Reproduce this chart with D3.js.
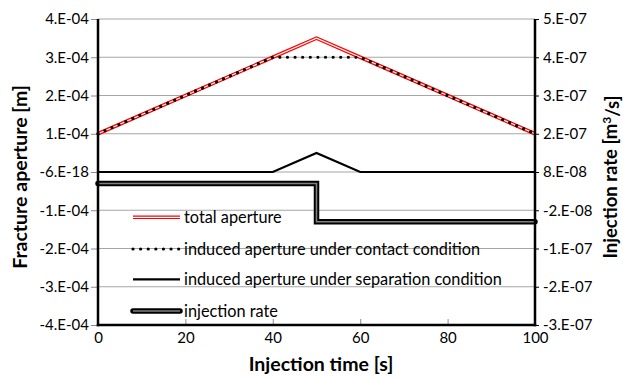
<!DOCTYPE html>
<html>
<head>
<meta charset="utf-8">
<script src="https://cdn.jsdelivr.net/npm/d3@7"></script>
<style>
  html, body { margin: 0; padding: 0; background: #fff; }
  svg { display: block; }
  text { font-family: Lato, "Open Sans", "Liberation Sans", sans-serif; fill: #000; }
</style>
</head>
<body>
<div id="chart"></div>
<script>
// Injection time axis
const xTickValues = [0, 20, 40, 60, 80, 100];

// Left axis: fracture aperture [m]
const leftTickValues = [-4e-4, -3e-4, -2e-4, -1e-4, 0, 1e-4, 2e-4, 3e-4, 4e-4];
const leftTickLabels = ["-4.E-04", "-3.E-04", "-2.E-04", "-1.E-04", "-6.E-18", "1.E-04", "2.E-04", "3.E-04", "4.E-04"];

// Right axis: injection rate [m3/s]
const rightTickValues = [-3.2e-7, -2.2e-7, -1.2e-7, -0.2e-7, 0.8e-7, 1.8e-7, 2.8e-7, 3.8e-7, 4.8e-7];
const rightTickLabels = ["-3.E-07", "-2.E-07", "-1.E-07", "-2.E-08", "8.E-08", "2.E-07", "3.E-07", "4.E-07", "5.E-07"];

// Series
const totalTime = [0, 40, 50, 60, 100];
const totalAperture = [1e-4, 3e-4, 3.5e-4, 3e-4, 1e-4];

const contactTime = [0, 40, 60, 100];
const contactAperture = [1e-4, 3e-4, 3e-4, 1e-4];

const separationTime = [0, 40, 50, 60, 100];
const separationAperture = [0, 0, 0.5e-4, 0, 0];

const injectionTime = [0, 50, 50, 100];
const injectionRate = [5e-8, 5e-8, -5e-8, -5e-8];

const legendLabels = [
  "total aperture",
  "induced aperture under contact condition",
  "induced aperture under separation condition",
  "injection rate"
];

const W = 623, H = 378;
const plot = { left: 98, right: 535, top: 19, bottom: 325 };

const svg = d3.select("#chart").append("svg").attr("width", W).attr("height", H);

const x = d3.scaleLinear().domain([0, 100]).range([plot.left, plot.right]);
const yL = d3.scaleLinear().domain([-4e-4, 4e-4]).range([plot.bottom, plot.top]);
const yR = d3.scaleLinear().domain([-3.2e-7, 4.8e-7]).range([plot.bottom, plot.top]);

const zip = (xs, ys) => xs.map((v, i) => [v, ys[i]]);

// Gridlines
svg.append("g").selectAll("line").data(leftTickValues).join("line")
  .attr("x1", plot.left).attr("x2", plot.right)
  .attr("y1", d => yL(d)).attr("y2", d => yL(d))
  .attr("stroke", "#a6a6a6").attr("stroke-width", 1);

// Left axis
const leftAxis = d3.axisLeft(yL).tickValues(leftTickValues)
  .tickFormat((d, i) => leftTickLabels[i]).tickSize(7).tickPadding(2);
const gL = svg.append("g").attr("transform", `translate(${plot.left},0)`).call(leftAxis);
gL.select(".domain").remove();
gL.selectAll(".tick line").attr("stroke", "#8c8c8c");
gL.selectAll(".tick text").style("font-size", "15px").attr("font-family", null);

// Right axis
const rightAxis = d3.axisRight(yR).tickValues(rightTickValues)
  .tickFormat((d, i) => rightTickLabels[i]).tickSize(4).tickPadding(4);
const gR = svg.append("g").attr("transform", `translate(${plot.right},0)`).call(rightAxis);
gR.select(".domain").remove();
gR.selectAll(".tick line").attr("stroke", "#000");
gR.selectAll(".tick text").style("font-size", "15px").attr("font-family", null);

// Bottom axis (ticks pointing into the plot)
const bottomAxis = d3.axisBottom(x).tickValues(xTickValues).tickSize(0).tickPadding(7);
const gB = svg.append("g").attr("transform", `translate(0,${plot.bottom})`).call(bottomAxis);
gB.select(".domain").remove();
gB.selectAll(".tick text").style("font-size", "15px").attr("font-family", null);
gB.selectAll(".tick").append("line").attr("y1", 0).attr("y2", -6).attr("stroke", "#8c8c8c");

const lineL = d3.line().x(d => x(d[0])).y(d => yL(d[1]));
const lineR = d3.line().x(d => x(d[0])).y(d => yR(d[1]));

// Total aperture: red outlined line
const totalPts = zip(totalTime, totalAperture);
svg.append("path").attr("d", lineL(totalPts)).attr("fill", "none")
  .attr("stroke", "#ff0000").attr("stroke-width", 3.6).attr("stroke-linejoin", "miter");
svg.append("path").attr("d", lineL(totalPts)).attr("fill", "none")
  .attr("stroke", "#fff").attr("stroke-width", 1.2).attr("stroke-linejoin", "miter");

// Contact condition: dotted
svg.append("path").attr("d", lineL(zip(contactTime, contactAperture))).attr("fill", "none")
  .attr("stroke", "#000").attr("stroke-width", 3.2).attr("stroke-linecap", "round")
  .attr("stroke-dasharray", "0.01 7.6");

// Separation condition: solid
svg.append("path").attr("d", lineL(zip(separationTime, separationAperture))).attr("fill", "none")
  .attr("stroke", "#000").attr("stroke-width", 2.2);

// Injection rate: black with grey core
const injPts = zip(injectionTime, injectionRate);
svg.append("path").attr("d", lineR(injPts)).attr("fill", "none")
  .attr("stroke", "#000").attr("stroke-width", 5.5).attr("stroke-linecap", "round");
svg.append("path").attr("d", lineR(injPts)).attr("fill", "none")
  .attr("stroke", "#808080").attr("stroke-width", 1.6).attr("stroke-linecap", "butt");

// Axis lines
svg.append("line").attr("x1", plot.left).attr("x2", plot.left)
  .attr("y1", plot.top).attr("y2", plot.bottom + 1.2).attr("stroke", "#000").attr("stroke-width", 2.5);
svg.append("line").attr("x1", plot.right).attr("x2", plot.right)
  .attr("y1", plot.top).attr("y2", plot.bottom + 1.2).attr("stroke", "#000").attr("stroke-width", 2.5);
svg.append("line").attr("x1", plot.left - 1.2).attr("x2", plot.right + 1.2)
  .attr("y1", plot.bottom).attr("y2", plot.bottom).attr("stroke", "#000").attr("stroke-width", 2.5);

// Legend
const legendY = [217.3, 249, 279.3, 311];
const lx1 = 133, lx2 = 180;
const lg = svg.append("g");
legendLabels.forEach((label, i) => {
  const y = legendY[i];
  const seg = `M${lx1},${y}L${lx2},${y}`;
  if (i === 0) {
    lg.append("path").attr("d", seg).attr("stroke", "#ff0000").attr("stroke-width", 3.6);
    lg.append("path").attr("d", seg).attr("stroke", "#fff").attr("stroke-width", 1.2);
  } else if (i === 1) {
    lg.append("path").attr("d", seg).attr("stroke", "#000").attr("stroke-width", 3.2)
      .attr("stroke-linecap", "round").attr("stroke-dasharray", "0.01 7.6");
  } else if (i === 2) {
    lg.append("path").attr("d", seg).attr("stroke", "#000").attr("stroke-width", 2.2);
  } else {
    lg.append("path").attr("d", seg).attr("stroke", "#000").attr("stroke-width", 5.5).attr("stroke-linecap", "round");
    lg.append("path").attr("d", seg).attr("stroke", "#808080").attr("stroke-width", 1.6);
  }
  lg.append("text").attr("x", 184).attr("y", y).attr("dy", "0.35em")
    .style("font-size", "16.3px").text(label);
});

// Axis titles
svg.append("text").attr("transform", `translate(321,371)`)
  .attr("text-anchor", "middle").style("font-size", "19.5px").style("font-weight", "bold")
  .text("Injection time [s]");
svg.append("text").attr("transform", "translate(27,177) rotate(-90)")
  .attr("text-anchor", "middle").style("font-size", "19.5px").style("font-weight", "bold")
  .text("Fracture aperture [m]");
const rt = svg.append("text").attr("transform", "translate(616.5,177) rotate(-90)")
  .attr("text-anchor", "middle").style("font-size", "18.5px").style("font-weight", "bold");
rt.append("tspan").text("Injection rate [m");
rt.append("tspan").attr("dy", "-0.45em").style("font-size", "12px").text("3");
rt.append("tspan").attr("dy", "0.45em").text("/s]");
</script>
</body>
</html>
